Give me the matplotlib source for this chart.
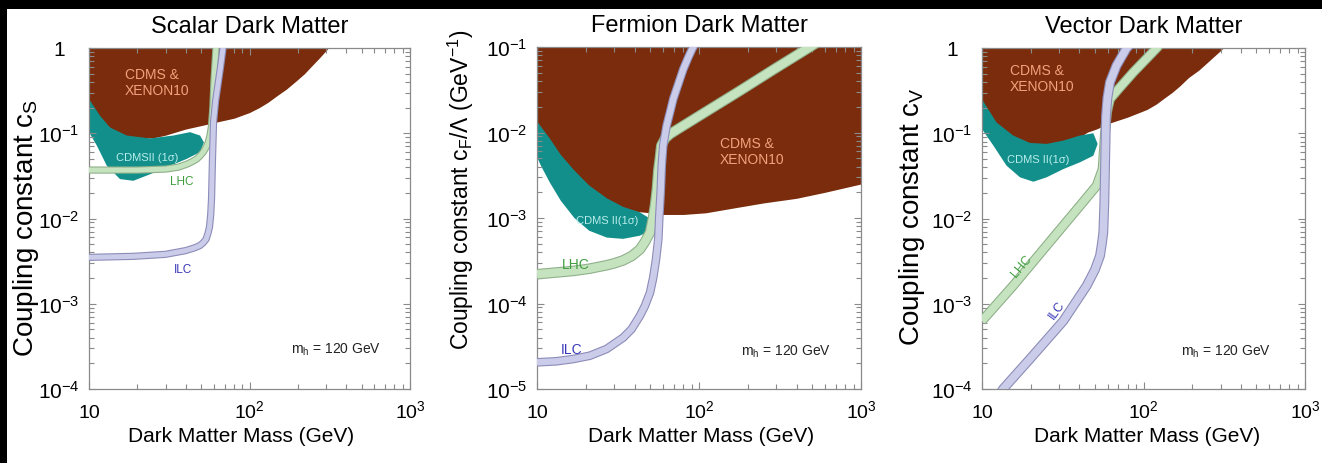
import numpy as np
import matplotlib
matplotlib.use("Agg")
import matplotlib.pyplot as plt
import matplotlib.patheffects as pe
from matplotlib.ticker import LogLocator, NullFormatter
from matplotlib.patches import Rectangle

plt.rcParams["font.family"] = ["Liberation Sans", "DejaVu Sans"]
plt.rcParams["mathtext.fontset"] = "custom"
plt.rcParams["mathtext.rm"] = "Liberation Sans"
plt.rcParams["mathtext.it"] = "Liberation Sans:italic"
plt.rcParams["mathtext.default"] = "regular"

# ---------------- data: dark matter mass (GeV) vs coupling ----------------
x_ticks = [10, 100, 1000]
x_tick_labels = ["10", "$10^{2}$", "$10^{3}$"]

# Scalar dark matter
m_brown_s = [10, 11, 12, 14, 17, 20, 25, 30, 40, 50, 57, 62, 70, 80, 100, 115, 130, 150, 170,
             195, 220, 245, 270, 290, 310, 400]
c_brown_s = [0.22, 0.17, 0.145, 0.108, 0.092, 0.088, 0.088, 0.095, 0.112, 0.123, 0.13, 0.135,
             0.142, 0.15, 0.175, 0.2, 0.23, 0.28, 0.33, 0.41, 0.5, 0.62, 0.75, 0.87, 1.0, 1.6]
m_teal_s = [10, 11.7, 13.5, 17.2, 24, 33.5, 42.6, 49.2, 52, 49.2, 40.6, 30.5, 24, 18.9, 15.6, 12.9, 11.2, 10]
c_teal_s = [0.252, 0.161, 0.117, 0.094, 0.087, 0.094, 0.103, 0.094, 0.078, 0.060, 0.050, 0.040,
            0.033, 0.0277, 0.029, 0.0417, 0.0715, 0.103]
m_lhc_s = [10, 20, 30, 36, 41, 44, 47, 49.5, 51.5, 53.5, 55.3, 56.8, 58, 59.2, 60, 61.8, 63]
c_lhc_s = [0.037, 0.037, 0.038, 0.040, 0.0436, 0.0465, 0.050, 0.055, 0.060, 0.068, 0.078, 0.095,
           0.123, 0.21, 0.40, 1.0, 1.5]
m_ilc_s = [10, 19, 30, 40, 45, 49, 51.5, 53.6, 55, 56.3, 57.3, 58, 58.8, 59.7, 61.5, 63.7, 66,
           68.4, 72]
c_ilc_s = [0.0035, 0.0036, 0.0038, 0.0042, 0.0045, 0.0048, 0.0052, 0.0057, 0.0066, 0.0079, 0.011,
           0.017, 0.05, 0.135, 0.24, 0.378, 0.6, 1.0, 1.5]
y_ticks_s = [1, 1e-1, 1e-2, 1e-3, 1e-4]
y_labels_s = ["1", "$10^{-1}$", "$10^{-2}$", "$10^{-3}$", "$10^{-4}$"]

# Fermion dark matter
m_brown_f = [10, 11, 13, 16, 20, 25, 30, 40, 50, 60, 80, 110, 160, 250, 400, 600, 1000]
c_brown_f = [0.012, 0.008, 0.0045, 0.0028, 0.0019, 0.0015, 0.0013, 0.0012, 0.00115, 0.0011, 0.0011,
             0.00115, 0.0013, 0.0015, 0.0017, 0.002, 0.0025]
m_teal_f = [10, 12, 14, 17, 21, 27, 34, 43, 50, 51.5, 48, 43, 34, 27, 21, 17, 14, 12, 10.5, 10]
c_teal_f = [0.0135, 0.0085, 0.0055, 0.0036, 0.0024, 0.0017, 0.00135, 0.00117, 0.00098, 0.00082,
            0.00068, 0.00062, 0.00057, 0.00059, 0.00071, 0.0010, 0.0016, 0.0026, 0.0042, 0.0052]
m_lhc_f = [10, 13, 16.7, 21, 26.9, 30, 34.1, 38.5, 43.2, 46.5, 49.9, 52, 53.5, 55, 56.1, 57.5,
           58.5, 62, 66.3, 72, 112, 180, 288, 484, 600]
c_lhc_f = [2.2e-4, 2.3e-4, 2.4e-4, 2.55e-4, 2.8e-4, 2.95e-4, 3.2e-4, 3.6e-4, 4.3e-4, 5.3e-4,
           6.8e-4, 1.0e-3, 1.4e-3, 2.2e-3, 3.6e-3, 5.2e-3, 7.0e-3, 8.6e-3, 9.6e-3, 0.0106, 0.0178,
           0.031, 0.0544, 0.1, 0.129]
m_ilc_f = [10, 13.2, 16.7, 21.2, 26.9, 34.1, 38.4, 43.2, 46.4, 49.9, 52.2, 54.3, 56.1, 56.9, 58.0,
           58.9, 60.1, 63.1, 66.2, 69.4, 74.5, 80, 85.9, 91, 100]
c_ilc_f = [2.05e-5, 2.11e-5, 2.24e-5, 2.45e-5, 2.94e-5, 4.0e-5, 5.03e-5, 7.2e-5, 9.4e-5, 1.35e-4,
           2.02e-4, 3.3e-4, 5.7e-4, 1.06e-3, 2.0e-3, 4.1e-3, 7.0e-3, 0.012, 0.0172, 0.0247, 0.0369,
           0.055, 0.0757, 0.096, 0.13]
y_ticks_f = [1e-1, 1e-2, 1e-3, 1e-4, 1e-5]
y_labels_f = ["$10^{-1}$", "$10^{-2}$", "$10^{-3}$", "$10^{-4}$", "$10^{-5}$"]

# Vector dark matter
m_brown_v = [10, 11.8, 14.2, 17, 20, 25, 32, 40, 45, 51, 62, 80, 105, 120, 135, 150, 168, 190,
             220, 245, 270, 290, 312, 400]
c_brown_v = [0.22, 0.13, 0.09, 0.075, 0.07, 0.07, 0.076, 0.09, 0.103, 0.112, 0.132, 0.155, 0.19,
             0.22, 0.26, 0.3, 0.36, 0.45, 0.55, 0.66, 0.78, 0.88, 1.0, 1.6]
m_teal_v = [10, 12.3, 15.6, 19.8, 25.1, 31.9, 40.4, 48.9, 52, 48.9, 40.4, 31.9, 25.1, 20.8, 17.2, 14.2, 11.8, 10]
c_teal_v = [0.25, 0.134, 0.094, 0.077, 0.075, 0.082, 0.094, 0.1, 0.075, 0.0545, 0.0456, 0.038,
            0.0304, 0.027, 0.0304, 0.0416, 0.071, 0.112]
m_lhc_v = [10, 15.6, 25.1, 40.4, 51.3, 55.8, 57.8, 59.5, 62, 70, 86.5, 120.8, 140]
c_lhc_v = [6.3e-4, 1.63e-3, 4.8e-3, 0.0141, 0.0243, 0.038, 0.103, 0.18, 0.252, 0.33, 0.519, 1.0, 1.4]
m_ilc_v = [12, 13.5, 19.8, 31.9, 44.5, 50, 53.8, 55.2, 56.4, 57.2, 57.8, 58.6, 59.8, 62, 68, 78.7, 90]
c_ilc_v = [7e-5, 1e-4, 2.25e-4, 6.3e-4, 1.63e-3, 2.5e-3, 3.66e-3, 5.0e-3, 6.9e-3, 0.015, 0.0416,
           0.16, 0.26, 0.396, 0.62, 1.0, 1.3]
y_ticks_v = y_ticks_s
y_labels_v = y_labels_s

# ---------------- styling ----------------
BROWN = "#7a2c0c"
TEAL = "#138f8b"
LHC_FILL, LHC_EDGE = "#c6e3c0", "#8fb08a"
ILC_FILL, ILC_EDGE = "#cbcbea", "#8c8cb8"
FRAME = "#8a8a8a"
TXT_EXCL = "#f2a27c"
TXT_TEAL = "#b8eeec"
TXT_LHC = "#3e9e3e"
TXT_ILC = "#3838b8"

W, H = 1322, 464
fig = plt.figure(figsize=(W / 100, H / 100), dpi=100)
fig.patch.set_facecolor("white")


def add_axes_px(x0, x1, y0, y1):
    return fig.add_axes([x0 / W, 1 - y1 / H, (x1 - x0) / W, (y1 - y0) / H])


def band(ax, m, c, lw, fill, edge):
    ax.plot(m, c, color=fill, lw=lw, solid_capstyle="butt", solid_joinstyle="round", zorder=3,
            path_effects=[pe.Stroke(linewidth=lw + 1.6, foreground=edge), pe.Normal()])


def style(ax, ylim, yticks, ylabels, title, ylabel, ylabel_size, ylabel_xy, xlabel_x):
    ax.set_xscale("log")
    ax.set_yscale("log")
    ax.set_xlim(10, 1000)
    ax.set_ylim(*ylim)
    ax.set_xticks(x_ticks, x_tick_labels)
    ax.set_yticks(yticks, ylabels)
    ax.xaxis.set_minor_locator(LogLocator(base=10, subs=np.arange(2, 10), numticks=20))
    ax.yaxis.set_minor_locator(LogLocator(base=10, subs=np.arange(2, 10), numticks=20))
    ax.xaxis.set_minor_formatter(NullFormatter())
    ax.yaxis.set_minor_formatter(NullFormatter())
    ax.tick_params(which="both", direction="in", top=True, right=True, color=FRAME, width=0.8)
    ax.tick_params(which="major", length=5)
    ax.tick_params(which="minor", length=3.5)
    ax.tick_params(axis="x", which="major", pad=20, labelsize=14)
    ax.tick_params(axis="y", which="major", pad=21.5, labelsize=15)
    plt.setp(ax.get_yticklabels(), ha="center")
    plt.setp(ax.get_xticklabels(), va="baseline")
    for s in ax.spines.values():
        s.set_color(FRAME)
        s.set_linewidth(0.9)
    ax.set_title(title, fontsize=17, pad=11.5)
    ax.set_xlabel("Dark Matter Mass (GeV)", fontsize=15, va="baseline")
    ax.xaxis.set_label_coords(xlabel_x, -0.1525)
    ax.set_ylabel(ylabel, fontsize=ylabel_size, va="center")
    ax.yaxis.set_label_coords(*ylabel_xy)


# ---------------- Scalar ----------------
ax1 = add_axes_px(89, 410, 49, 390)
ax1.fill_between(m_brown_s, c_brown_s, 10, color=BROWN, lw=0, zorder=1)
ax1.fill(m_teal_s, c_teal_s, color=TEAL, lw=0, zorder=1.5)
band(ax1, m_lhc_s, c_lhc_s, 3.6, LHC_FILL, LHC_EDGE)
band(ax1, m_ilc_s, c_ilc_s, 3.6, ILC_FILL, ILC_EDGE)
ax1.text(16.8, 0.40, "CDMS &\nXENON10", color=TXT_EXCL, fontsize=10, ha="left", va="center",
         linespacing=1.15, zorder=4)
ax1.text(22.9, 0.0526, "CDMSII (1σ)", color=TXT_TEAL, fontsize=8, ha="center", va="center", zorder=4)
ax1.text(37.8, 0.0278, "LHC", color=TXT_LHC, fontsize=8.5, ha="center", va="center", zorder=4)
ax1.text(38.7, 0.00256, "ILC", color=TXT_ILC, fontsize=8.5, ha="center", va="center", zorder=4)
ax1.text(344, 2.94e-4, "m$_h$ = 120 GeV", color="#222222", fontsize=10, ha="center", va="center", zorder=4)
style(ax1, (1e-4, 1), y_ticks_s, y_labels_s, "Scalar Dark Matter",
      "Coupling constant c$_S$", 20, (-0.195, 0.475), 0.475)

# ---------------- Fermion ----------------
ax2 = add_axes_px(537, 861, 48, 390)
ax2.fill_between(m_brown_f, c_brown_f, 1, color=BROWN, lw=0, zorder=1)
ax2.fill(m_teal_f, c_teal_f, color=TEAL, lw=0, zorder=1.5)
band(ax2, m_lhc_f, c_lhc_f, 6.0, LHC_FILL, LHC_EDGE)
band(ax2, m_ilc_f, c_ilc_f, 4.6, ILC_FILL, ILC_EDGE)
ax2.text(135, 0.00608, "CDMS &\nXENON10", color=TXT_EXCL, fontsize=10, ha="left", va="center",
         linespacing=1.15, zorder=4)
ax2.text(27.2, 9.55e-4, "CDMS II(1σ)", color=TXT_TEAL, fontsize=8, ha="center", va="center", zorder=4)
ax2.text(17.3, 2.9e-4, "LHC", color=TXT_LHC, fontsize=10, ha="center", va="center", zorder=4)
ax2.text(16.4, 2.94e-5, "ILC", color=TXT_ILC, fontsize=10, ha="center", va="center", zorder=4)
ax2.text(343, 2.8e-5, "m$_h$ = 120 GeV", color="#222222", fontsize=10, ha="center", va="center", zorder=4)
style(ax2, (1e-5, 1e-1), y_ticks_f, y_labels_f, "Fermion Dark Matter",
      "Coupling constant c$_F$/Λ (GeV$^{-1}$)", 16.5, (-0.236, 0.585), 0.505)

# ---------------- Vector ----------------
ax3 = add_axes_px(982, 1305, 49, 390)
ax3.fill_between(m_brown_v, c_brown_v, 10, color=BROWN, lw=0, zorder=1)
ax3.fill(m_teal_v, c_teal_v, color=TEAL, lw=0, zorder=1.5)
band(ax3, m_lhc_v, c_lhc_v, 5.5, LHC_FILL, LHC_EDGE)
band(ax3, m_ilc_v, c_ilc_v, 5.5, ILC_FILL, ILC_EDGE)
ax3.text(14.9, 0.445, "CDMS &\nXENON10", color=TXT_EXCL, fontsize=10, ha="left", va="center",
         linespacing=1.15, zorder=4)
ax3.text(22.3, 0.0499, "CDMS II(1σ)", color=TXT_TEAL, fontsize=8, ha="center", va="center", zorder=4)
ax3.text(17.6, 2.8e-3, "LHC", color=TXT_LHC, fontsize=9, ha="center", va="center", rotation=50, zorder=4)
ax3.text(29.3, 8.7e-4, "ILC", color=TXT_ILC, fontsize=9, ha="center", va="center", rotation=55, zorder=4)
ax3.text(323, 2.8e-4, "m$_h$ = 120 GeV", color="#222222", fontsize=10, ha="center", va="center", zorder=4)
style(ax3, (1e-4, 1), y_ticks_v, y_labels_v, "Vector Dark Matter",
      "Coupling constant c$_V$", 20, (-0.217, 0.51), 0.51)

# dark frame strips along the top and left edges
fig.patches.append(Rectangle((0, 1 - 10 / H), 1, 10 / H, transform=fig.transFigure,
                             facecolor="black", edgecolor="none", zorder=10))
fig.patches.append(Rectangle((0, 0), 7 / W, 1, transform=fig.transFigure,
                             facecolor="black", edgecolor="none", zorder=10))

fig.savefig("out.png", dpi=100)
